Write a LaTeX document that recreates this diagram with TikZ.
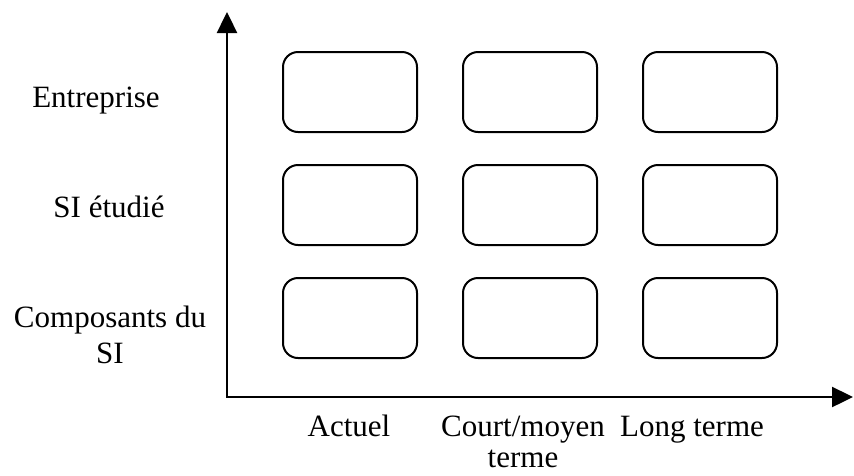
\documentclass[tikz,border=0pt]{standalone}
\usepackage{fontspec}
\setmainfont{Liberation Serif}
\usetikzlibrary{positioning,arrows.meta}
\tikzset{CELL/.style={rectangle,rounded corners=15pt,draw,line width=2pt,minimum width=134pt,minimum height=80pt}}
\tikzset{LABEL/.style={align=center,anchor=base,inner sep=0pt,font=\fontsize{31}{36}\selectfont}}
\tikzset{AXIS/.style={line width=2.4pt,{Triangle[length=21pt,width=20pt]}-{Triangle[length=21pt,width=20pt]}}}

\begin{document}
\begin{tikzpicture}[x=1pt,y=-1pt]
\useasboundingbox (0,0) rectangle (854,475);

\coordinate (c_top) at (227,12);
\coordinate (c_origin) at (227,397);
\coordinate (c_right) at (853,397);
\draw[AXIS] (c_top) -- (c_origin) -- (c_right);

\node[CELL] (n_ent_now) at (350,92) {};
\node[CELL, right=44pt of n_ent_now] (n_ent_mid) {};
\node[CELL, right=44pt of n_ent_mid] (n_ent_long) {};

\node[CELL, below=31pt of n_ent_now] (n_si_now) {};
\node[CELL, right=44pt of n_si_now] (n_si_mid) {};
\node[CELL, right=44pt of n_si_mid] (n_si_long) {};

\node[CELL, below=31pt of n_si_now] (n_comp_now) {};
\node[CELL, right=44pt of n_comp_now] (n_comp_mid) {};
\node[CELL, right=44pt of n_comp_mid] (n_comp_long) {};

% multi-line labels: base is the last line
\node[LABEL] (n_row_ent) at (96,107) {Entreprise};
\node[LABEL] (n_row_si) at (109,217) {SI étudié};
\node[LABEL] (n_row_comp) at (110,363) {Composants du \\ SI};

\node[LABEL] (n_col_now) at (349,436) {Actuel};
\node[LABEL] (n_col_mid) at (523,467) {Court/moyen \\[-5pt] terme};
\node[LABEL] (n_col_long) at (692,436) {Long terme};

\end{tikzpicture}
\end{document}
